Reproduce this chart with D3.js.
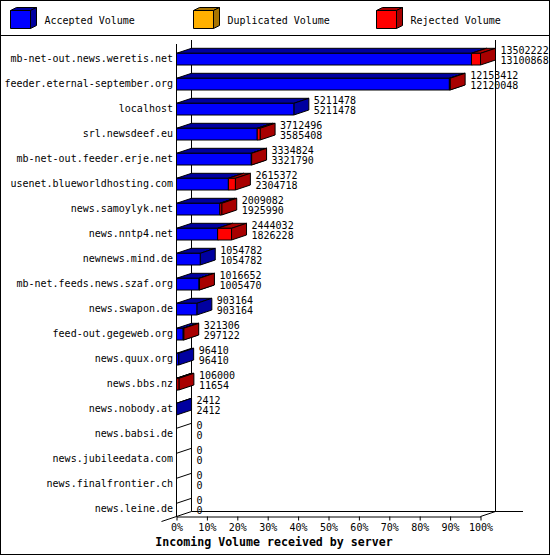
<!DOCTYPE html>
<html>
<head>
<meta charset="utf-8">
<script src="https://cdn.jsdelivr.net/npm/d3@7"></script>
<style>
  body { margin: 0; background: #fff; }
  text { font-family: "DejaVu Sans Mono", monospace; font-size: 10px; fill: #000; }
</style>
</head>
<body>
<div id="chart"></div>
<script>
const width = 550;
const height = 555;

const servers = [
  'mb-net-out.news.weretis.net', 'feeder.eternal-september.org', 'localhost',
  'srl.newsdeef.eu', 'mb-net-out.feeder.erje.net', 'usenet.blueworldhosting.com',
  'news.samoylyk.net', 'news.nntp4.net', 'newnews.mind.de', 'mb-net.feeds.news.szaf.org',
  'news.swapon.de', 'feed-out.gegeweb.org', 'news.quux.org', 'news.bbs.nz',
  'news.nobody.at', 'news.babsi.de', 'news.jubileedata.com', 'news.finalfrontier.ch',
  'news.leine.de'
];
const totalVolume = [13502222, 12153412, 5211478, 3712496, 3334824, 2615372, 2009082,
  2444032, 1054782, 1016652, 903164, 321306, 96410, 106000, 2412, 0, 0, 0, 0];
const acceptedVolume = [13100868, 12120048, 5211478, 3585408, 3321790, 2304718, 1925990,
  1826228, 1054782, 1005470, 903164, 297122, 96410, 11654, 2412, 0, 0, 0, 0];
const duplicatedVolume = [0, 0, 0, 0, 0, 0, 0, 0, 0, 0, 0, 0, 0, 0, 0, 0, 0, 0, 0];

const legendLabels = ['Accepted Volume', 'Duplicated Volume', 'Rejected Volume'];
const percentTicks = [0, 0.1, 0.2, 0.3, 0.4, 0.5, 0.6, 0.7, 0.8, 0.9, 1];
const xTitle = 'Incoming Volume received by server';

const colors = {
  accepted: { front: '#0000ff', dark: '#0000a0' },
  duplicated: { front: '#ffb000', dark: '#a87400' },
  rejected: { front: '#ff0000', dark: '#a80000' }
};
const legendColors = [colors.accepted, colors.duplicated, colors.rejected];

// 3d depth of the plot
const depth = { dx: 15, dy: 5 };

const svg = d3.select('#chart')
  .append('svg')
    .attr('width', width)
    .attr('height', height);

svg.append('rect')
  .attr('x', 0.5).attr('y', 0.5)
  .attr('width', width - 1).attr('height', height - 1)
  .style('fill', '#fff').style('stroke', '#000');

svg.append('line')
  .attr('x1', 0).attr('x2', width)
  .attr('y1', 35.5).attr('y2', 35.5)
  .style('stroke', '#000');

// a box with front, top and side face
let box = (g, x0, x1, yTop, yBot, dx, dy, c) => {
  const face = (pts, fill) => g.append('polygon')
    .attr('points', pts.map(p => p.join(',')).join(' '))
    .style('fill', fill)
    .style('stroke', '#000')
    .style('stroke-width', 1)
    .style('stroke-linejoin', 'miter');
  face([[x0, yTop], [x0 + dx, yTop - dy], [x1 + dx, yTop - dy], [x1, yTop]], c.dark);
  face([[x1, yTop], [x1 + dx, yTop - dy], [x1 + dx, yBot - dy], [x1, yBot]], c.dark);
  face([[x0, yTop], [x1, yTop], [x1, yBot], [x0, yBot]], c.front);
}

// legend
const legend = svg.append('g');
legendLabels.forEach((label, i) => {
  const lx = 10.5 + i * 183;
  box(legend, lx, lx + 20, 10.5, 28.5, 6, 3, legendColors[i]);
  legend.append('text')
    .attr('x', lx + 34)
    .attr('y', 20)
    .attr('dy', '0.35em')
    .text(label);
});

const pct = d3.scaleLinear().domain([0, 1]).range([176.5, 480.5]);
const x = d3.scaleLinear().domain([0, d3.max(totalVolume)]).range(pct.range());
const y = d3.scalePoint().domain(servers).range([58.3, 508.3]);

const frontBottom = 516.5;
const frontTop = 44;
const back = { x0: pct(0) + depth.dx, x1: pct(1) + depth.dx, top: 40, bottom: frontBottom - depth.dy };

const frame = svg.append('g').style('stroke', '#000').style('fill', 'none');
frame.append('line')
  .attr('x1', back.x0).attr('x2', back.x0)
  .attr('y1', back.top).attr('y2', back.bottom);
frame.append('line')
  .attr('x1', back.x1).attr('x2', back.x1)
  .attr('y1', back.top).attr('y2', back.bottom);
frame.append('line')
  .attr('x1', back.x0).attr('x2', 523)
  .attr('y1', back.bottom).attr('y2', back.bottom);
frame.append('line')
  .attr('x1', pct(0) - depth.dx).attr('y1', frontBottom + depth.dy)
  .attr('x2', back.x0).attr('y2', back.bottom);
frame.append('line')
  .attr('x1', pct(1)).attr('y1', frontBottom)
  .attr('x2', back.x1).attr('y2', back.bottom);
frame.append('line')
  .attr('x1', pct(0)).attr('x2', pct(0))
  .attr('y1', frontTop).attr('y2', frontBottom);

// x axis
const xAxis = svg.append('g')
  .attr('transform', `translate(0,${frontBottom})`)
  .call(d3.axisBottom(pct)
    .tickValues(percentTicks)
    .tickFormat(d3.format('.0%'))
    .tickSize(4)
    .tickSizeOuter(0)
    .tickPadding(3));
xAxis.selectAll('path, line').style('stroke', '#000');
xAxis.selectAll('text')
  .style('font-family', '"DejaVu Sans Mono", monospace')
  .style('font-size', '10px')
  .style('fill', '#000');

// y labels
svg.append('g').selectAll('text')
  .data(servers)
  .join('text')
    .attr('x', 173)
    .attr('y', d => y(d))
    .attr('dy', '0.35em')
    .attr('text-anchor', 'end')
    .text(d => d);

// bars
const bars = svg.append('g');
servers.forEach((s, i) => {
  const c = y(s);
  const yTop = c - 5;
  const yBot = c + 6.7;
  const acc = acceptedVolume[i];
  const dup = duplicatedVolume[i];
  const tot = totalVolume[i];
  if (tot === 0) {
    bars.append('line')
      .attr('x1', x(0)).attr('y1', yTop)
      .attr('x2', x(0) + depth.dx).attr('y2', yTop - depth.dy)
      .style('stroke', '#000');
  } else {
    if (acc > 0) box(bars, x(0), x(acc), yTop, yBot, depth.dx, depth.dy, colors.accepted);
    if (dup > 0) box(bars, x(acc), x(acc + dup), yTop, yBot, depth.dx, depth.dy, colors.duplicated);
    if (tot > acc + dup) box(bars, x(acc + dup), x(tot), yTop, yBot, depth.dx, depth.dy, colors.rejected);
  }
  bars.append('text')
    .attr('x', x(tot) + 20)
    .attr('y', c - 8.3)
    .attr('dy', '0.35em')
    .text(tot);
  bars.append('text')
    .attr('x', x(tot) + 20)
    .attr('y', c + 2.2)
    .attr('dy', '0.35em')
    .text(acc);
});

svg.append('text')
  .attr('x', 274)
  .attr('y', 542)
  .attr('dy', '0.35em')
  .attr('text-anchor', 'middle')
  .style('font-weight', 'bold')
  .style('font-size', '11.6px')
  .text(xTitle);
</script>
</body>
</html>
